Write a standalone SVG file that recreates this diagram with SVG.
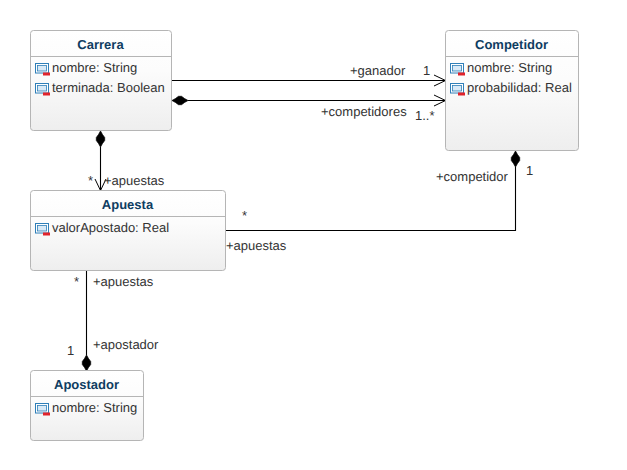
<svg xmlns="http://www.w3.org/2000/svg" width="627" height="470" viewBox="0 0 627 470">
<style>
text{font-family:"Liberation Sans",Arial,sans-serif;font-size:13px;fill:#333;text-rendering:geometricPrecision}
.t{font-weight:bold;fill:#0f3d62;text-anchor:middle}
.b{fill:url(#g);stroke:#b5b5b5;stroke-width:1}
.s{stroke:#b5b5b5;stroke-width:1;fill:none}
.l{stroke:#000;stroke-width:1.1;fill:none}
.o{stroke:#000;stroke-width:1;fill:none}
</style>
<defs>
<linearGradient id="g" x1="0" y1="0" x2="0" y2="1"><stop offset="0" stop-color="#fff"/><stop offset="0.4" stop-color="#fcfcfc"/><stop offset="1" stop-color="#eeeeee"/></linearGradient>
<g id="i">
<rect x="0.5" y="0.5" width="13" height="9.500" fill="#fff" stroke="#2f7fb8" stroke-width="1"/>
<rect x="2.500" y="2.500" width="9" height="5.500" fill="#d8e9f6" stroke="#2f7fb8" stroke-width="0.8"/>
<rect x="8" y="9.500" width="7" height="3" fill="#e0232b"/>
</g>
<path id="dm" d="M0 -8L2 -4.500L4.200 -1.500L4.200 1.500L2 4.500L0 8L-2 4.500L-4.200 1.500L-4.200 -1.500L-2 -4.500Z" fill="#000" stroke="#000" stroke-width="0.7"/>
</defs>
<g id="connectors">
<path class="l" d="M172 80.500H445"/>
<path class="o" d="M434 75L445.500 80.500L434 86"/>
<path class="l" d="M188 100.500H445"/>
<path class="o" d="M434 95L445.500 100.500L434 106"/>
<use href="#dm" transform="translate(180 100.500) rotate(90)"/>
<path class="l" d="M100.500 147V190"/>
<path class="o" d="M95 179L100.500 190.500L106 179"/>
<use href="#dm" transform="translate(100.500 139)"/>
<path class="l" d="M226 230.500H515.500V167"/>
<use href="#dm" transform="translate(515.500 159)"/>
<path class="l" d="M86.500 271V355"/>
<use href="#dm" transform="translate(86.500 363)"/>
<text x="350" y="75">+ganador</text>
<text x="423" y="75">1</text>
<text x="321" y="116">+competidores</text>
<text x="415" y="120">1..*</text>
<text x="88" y="185">*</text>
<text x="104" y="185">+apuestas</text>
<text x="436" y="181">+competidor</text>
<text x="526" y="175">1</text>
<text x="242" y="220">*</text>
<text x="226" y="250">+apuestas</text>
<text x="74" y="286">*</text>
<text x="93" y="286">+apuestas</text>
<text x="93" y="349">+apostador</text>
<text x="67" y="355">1</text>
</g>
<g id="carrera">
<rect class="b" x="30.500" y="30.500" width="141" height="100" rx="3"/>
<path class="s" d="M31 56.500H171"/>
<text class="t" x="100.500" y="49">Carrera</text>
<use href="#i" x="35" y="63"/><text x="52" y="72">nombre: String</text>
<use href="#i" x="35" y="83"/><text x="52" y="92">terminada: Boolean</text>
</g>
<g id="competidor">
<rect class="b" x="445.500" y="30.500" width="133" height="120" rx="3"/>
<path class="s" d="M446 56.500H578"/>
<text class="t" x="511.500" y="49">Competidor</text>
<use href="#i" x="450" y="63"/><text x="467" y="72">nombre: String</text>
<use href="#i" x="450" y="83"/><text x="467" y="92">probabilidad: Real</text>
</g>
<g id="apuesta">
<rect class="b" x="30.500" y="190.500" width="195" height="80" rx="3"/>
<path class="s" d="M31 216.500H225"/>
<text class="t" x="127.500" y="209">Apuesta</text>
<use href="#i" x="35" y="223"/><text x="52" y="232">valorApostado: Real</text>
</g>
<g id="apostador">
<rect class="b" x="30.500" y="370.500" width="113" height="70" rx="3"/>
<path class="s" d="M31 396.500H143"/>
<text class="t" x="86.500" y="389">Apostador</text>
<use href="#i" x="35" y="403"/><text x="52" y="412">nombre: String</text>
</g>
</svg>
